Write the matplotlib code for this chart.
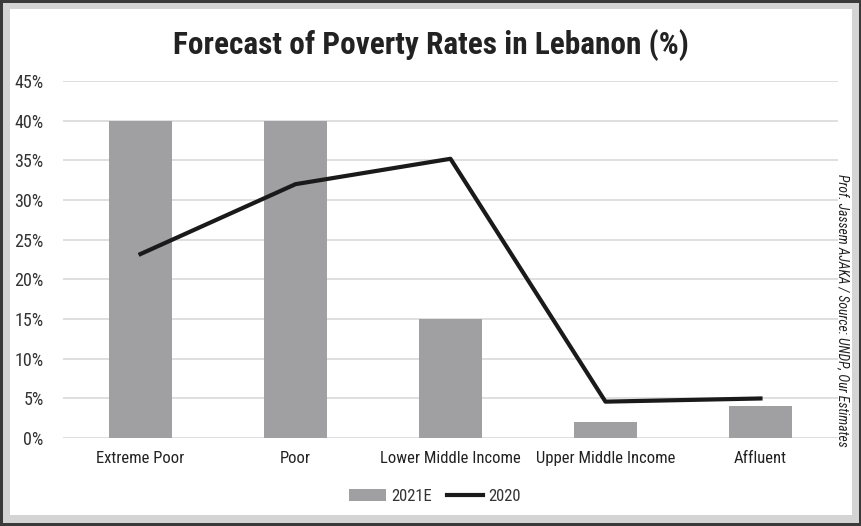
import matplotlib.pyplot as plt
from matplotlib.patches import Rectangle
import numpy as np

categories = ["Extreme Poor", "Poor", "Lower Middle Income", "Upper Middle Income", "Affluent"]
rates_2021e = [40, 40, 15, 2, 4]
rates_2020 = [23.2, 32, 35.2, 4.6, 5]
yticks = [0, 5, 10, 15, 20, 25, 30, 35, 40, 45]

plt.rcParams['font.family'] = ['Roboto Condensed', 'Roboto', 'DejaVu Sans']

fig = plt.figure(figsize=(8.62, 5.26), dpi=100)
fig.patch.set_facecolor("#3a3a3a")
# light gray frame + white card
fig.patches.append(Rectangle((0.004, 0.006), 0.992, 0.988, transform=fig.transFigure,
                             facecolor="#d4d4d4", edgecolor="none", zorder=-2))
fig.patches.append(Rectangle((0.012, 0.02), 0.976, 0.962, transform=fig.transFigure,
                             facecolor="white", edgecolor="none", zorder=-1))

ax = fig.add_axes([0.0731, 0.167, 0.899, 0.679])
x = np.arange(len(categories))
bars = ax.bar(x, rates_2021e, width=0.41, color="#a0a0a2", label="2021E", zorder=2)
line, = ax.plot(x, rates_2020, color="#1a1a1a", linewidth=3, label="2020", zorder=3)

ax.set_xlim(-0.5, len(categories) - 0.5)
ax.set_ylim(0, 45)
ax.set_yticks(yticks)
ax.set_yticklabels([f"{v}%" for v in yticks], fontsize=13, color="#333333")
ax.set_xticks(x)
ax.set_xticklabels(categories, fontsize=12, color="#222222")
ax.tick_params(axis="y", length=0, pad=14)
ax.tick_params(axis="x", length=0, pad=9)
ax.grid(axis="y", color="#d9d9d9", linewidth=1.2, zorder=0)
ax.set_axisbelow(True)
for s in ax.spines.values():
    s.set_visible(False)
ax.set_facecolor("none")

fig.text(0.5, 0.915, "Forecast of Poverty Rates in Lebanon (%)", ha="center", va="center",
         fontsize=22.5, fontweight="bold", color="#222222")
fig.text(0.978, 0.41, "Prof. Jassem AJAKA / Source: UNDP, Our Estimates", rotation=-90,
         ha="center", va="center", fontsize=9.8, style="italic", color="#222222")

ax.legend([bars, line], ["2021E", "2020"], loc="upper center", bbox_to_anchor=(0.48, -0.1),
          ncol=2, frameon=False, fontsize=12, handlelength=2.2, handletextpad=0.3,
          columnspacing=0.9, labelcolor="#333333")

fig.savefig("out.png", dpi=100, facecolor=fig.get_facecolor())
